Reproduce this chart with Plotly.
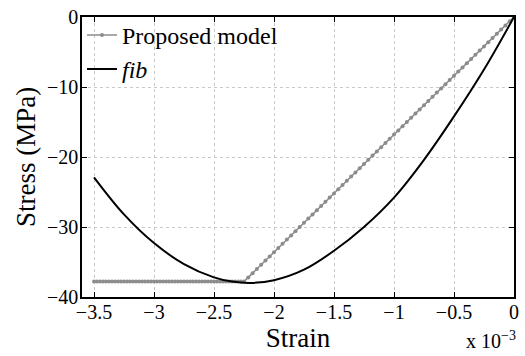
import numpy as np
import plotly.graph_objects as go

# fib model curve (strain in 1e-3, stress in MPa)
fib_strain = [-3.5, -3.25, -3.0, -2.75, -2.5, -2.35, -2.2, -2.0, -1.75,
              -1.5, -1.25, -1.0, -0.75, -0.5, -0.25, 0.0]
fib_stress = [-22.9, -28.2, -32.3, -35.3, -37.2, -37.8, -38.0, -37.6, -36.1,
              -33.4, -30.0, -25.8, -20.4, -14.2, -7.5, 0.0]

# Proposed model: bilinear vertices (strain in 1e-3, stress in MPa)
prop_vert_strain = [-3.5, -2.25, 0.0]
prop_vert_stress = [-37.8, -37.8, 0.0]

# sample points along the bilinear model
prop_strain = np.concatenate([np.linspace(-3.5, -2.25, 51)[:-1],
                              np.linspace(-2.25, 0.0, 64)])
prop_stress = np.interp(prop_strain, prop_vert_strain, prop_vert_stress)

x_ticks = [-3.5, -3, -2.5, -2, -1.5, -1, -0.5, 0]
x_labels = ["\u22123.5", "\u22123", "\u22122.5", "\u22122", "\u22121.5", "\u22121", "\u22120.5", "0"]
y_ticks = [-40, -30, -20, -10, 0]
y_labels = ["\u221240", "\u221230", "\u221220", "\u221210", "0"]

FONT = "Liberation Serif"

fig = go.Figure()
fig.add_trace(go.Scatter(
    x=prop_strain, y=prop_stress, mode="lines+markers", name="Proposed model",
    line=dict(color="#8c8c8c", width=1.5),
    marker=dict(color="#8c8c8c", size=4, symbol="circle"),
))
fig.add_trace(go.Scatter(
    x=fib_strain, y=fib_stress, mode="lines", name="<i>fib</i>",
    line=dict(color="black", width=2, shape="spline", smoothing=1.0),
))

axis_common = dict(
    showline=True, linecolor="black", linewidth=1.5, mirror="ticks",
    ticks="inside", ticklen=5, tickcolor="black", tickwidth=1,
    showgrid=True, gridcolor="#c8c8c8", griddash="dot", gridwidth=1,
    zeroline=False, tickfont=dict(family=FONT, size=20, color="black"),
)

fig.update_xaxes(
    range=[-3.6, 0], tickvals=x_ticks, ticktext=x_labels, ticklabelstandoff=-4,
    title=dict(text="Strain", font=dict(family=FONT, size=27, color="black"), standoff=0),
    **axis_common,
)
fig.update_yaxes(
    range=[-40, 0], tickvals=y_ticks, ticktext=y_labels, ticklabelstandoff=-2,
    title=dict(text="Stress (MPa)", font=dict(family=FONT, size=27, color="black"), standoff=4),
    **axis_common,
)

fig.add_annotation(
    text="x 10<sup>\u22123</sup>", xref="paper", yref="paper",
    x=1.01, y=-0.205, xanchor="right", yanchor="bottom", showarrow=False,
    font=dict(family=FONT, size=20, color="black"),
)

fig.update_layout(
    width=525, height=356,
    margin=dict(l=82, r=6, t=15, b=59),
    paper_bgcolor="white", plot_bgcolor="white",
    font=dict(family=FONT, color="black"),
    showlegend=True,
    legend=dict(x=0.0, y=1.015, xanchor="left", yanchor="top",
                bgcolor="rgba(255,255,255,0)", borderwidth=0,
                font=dict(family=FONT, size=24, color="black"),
                tracegroupgap=0, itemwidth=30),
)

fig.write_html("out.html")
